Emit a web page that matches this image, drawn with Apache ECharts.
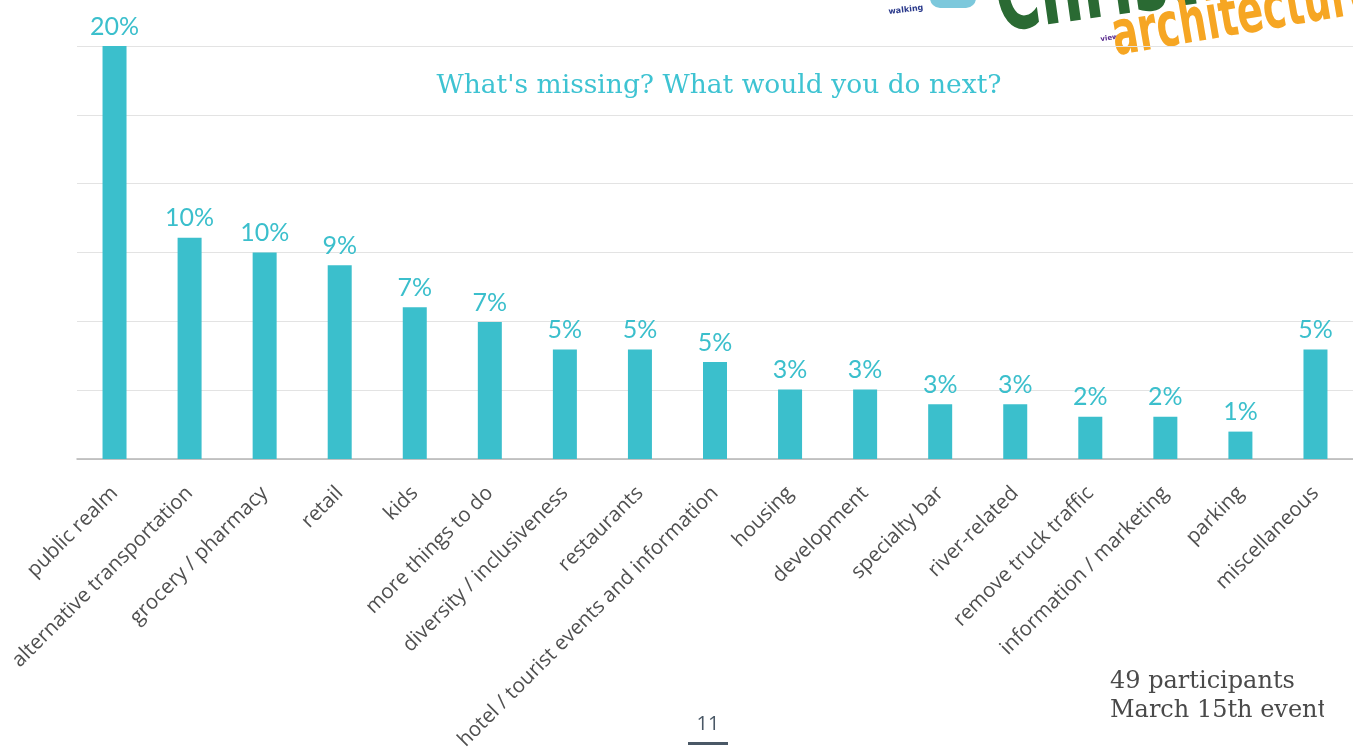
<!DOCTYPE html>
<html>
<head>
<meta charset="utf-8">
<script src="https://cdn.jsdelivr.net/npm/echarts@6/dist/echarts.min.js"></script>
<style>
html,body{margin:0;padding:0;background:#fff;}
#chart{width:1353px;height:755px;}
</style>
</head>
<body>
<div id="chart"></div>
<script>
// Categories (x axis)
const categories = [
  "public realm", "alternative transportation", "grocery / pharmacy", "retail",
  "kids", "more things to do", "diversity / inclusiveness", "restaurants",
  "hotel / tourist events and information", "housing", "development",
  "specialty bar", "river-related", "remove truck traffic",
  "information / marketing", "parking", "miscellaneous"
];
// Share of responses (%)
const shares = [19.6, 10.5, 9.8, 9.2, 7.2, 6.5, 5.2, 5.2, 4.6, 3.3, 3.3, 2.6, 2.6, 2.0, 2.0, 1.3, 5.2];
// Printed value labels
const valueLabels = ["20%", "10%", "10%", "9%", "7%", "7%", "5%", "5%", "5%", "3%", "3%", "3%", "3%", "2%", "2%", "1%", "5%"];
// Axis top (value of the top gridline) and number of gridline steps
const axisMax = 19.6;
const axisSteps = 6;

const teal = "#3bbfcc";
const chart = echarts.init(document.getElementById("chart"));
chart.setOption({
  backgroundColor: "#ffffff",
  animation: false,
  title: {
    text: "What's missing? What would you do next?",
    left: 714, top: 68, textAlign: "center",
    textStyle: { color: "#3ec3d2", fontFamily: "DejaVu Serif", fontSize: 26.5, fontWeight: "normal" }
  },
  grid: { left: 77, right: -7, top: 46, bottom: 296, containLabel: false },
  xAxis: {
    type: "category",
    data: categories,
    axisLine: { show: true, lineStyle: { color: "#b5b5b5", width: 1.5 } },
    axisTick: { show: false },
    axisLabel: {
      interval: 0, rotate: 45, margin: 31,
      color: "#505050", fontFamily: "Open Sans", fontSize: 20.5
    }
  },
  yAxis: {
    type: "value", min: 0, max: axisMax, interval: axisMax / axisSteps,
    axisLabel: { show: false }, axisLine: { show: false }, axisTick: { show: false },
    splitLine: { lineStyle: { color: "#e3e3e3", width: 1 } }
  },
  series: [{
    type: "bar",
    data: shares,
    barWidth: 24,
    itemStyle: { color: teal },
    label: {
      show: true, position: "top", distance: 7,
      formatter: p => valueLabels[p.dataIndex],
      color: "#3bbfcc", fontFamily: "Lato", fontSize: 25
    }
  }],
  graphic: [
    // word cloud logo fragments (top right)
    { type: "rect", shape: { x: 930, y: -14, width: 46, height: 22, r: 10 }, style: { fill: "#7cc8dc" } },
    { type: "text", x: 888, y: 8, rotation: 0.12, style: { text: "walking", fill: "#2b3a8c", font: "bold 8px 'DejaVu Sans'" } },
    { type: "text", x: 1100, y: 36, rotation: 0.15, style: { text: "view", fill: "#5b2d8f", font: "bold 7px 'DejaVu Sans'" } },
    { type: "text", x: 1003, y: 55, rotation: 0.14, scaleX: 0.6, scaleY: 1,
      style: { text: "Christ", fill: "#2a6a33", font: "bold 100px 'DejaVu Sans'", textVerticalAlign: "bottom" } },
    { type: "text", x: 1118, y: 70, rotation: 0.17, scaleX: 0.62, scaleY: 1,
      style: { text: "architecture", fill: "#f6a623", font: "bold 62px 'DejaVu Sans'", textVerticalAlign: "bottom" } },
    // footer
    { type: "text", x: 1110, y: 670, style: { text: "49 participants", fill: "#4a4a4a", font: "24px 'DejaVu Serif'" } },
    { type: "text", x: 1110, y: 699, style: { text: "March 15th event", fill: "#4a4a4a", font: "24px 'DejaVu Serif'" } },
    { type: "rect", shape: { x: 1324, y: 696, width: 40, height: 34 }, style: { fill: "#ffffff" } },
    { type: "text", x: 708, y: 724, style: { text: "11", fill: "#4a5866", font: "500 20px 'Open Sans'", textAlign: "center", textVerticalAlign: "middle" } },
    { type: "rect", shape: { x: 688, y: 742, width: 40, height: 3 }, style: { fill: "#4a5866" } }
  ]
});
</script>
</body>
</html>
